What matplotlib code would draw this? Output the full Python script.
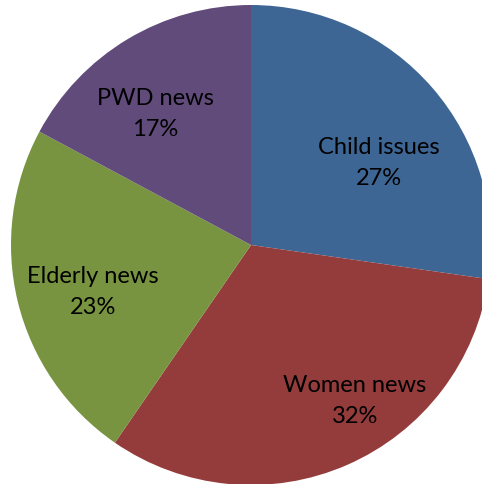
import matplotlib.pyplot as plt

# --- Data ---
categories = ["Child issues", "Women news", "Elderly news", "PWD news"]
shares = [27, 32, 23, 17]
colors = ["#3E6694", "#943C3B", "#789440", "#614B7B"]

# label positions inside each slice (pie radius = 1)
label_pos = [(0.533, 0.346), (0.433, -0.646), (-0.658, -0.192), (-0.40, 0.55)]

plt.rcParams['font.family'] = ['Lato', 'DejaVu Sans']

fig = plt.figure(figsize=(4.82, 4.85), dpi=100)
ax = fig.add_axes([0, 0, 1, 1])

wedges, _ = ax.pie(shares, colors=colors, startangle=90, counterclock=False,
                   radius=1.0, wedgeprops=dict(linewidth=0))

for name, val, (x, y) in zip(categories, shares, label_pos):
    ax.text(x, y, f"{name}\n{val}%", ha='center', va='center',
            fontsize=17, color='black', linespacing=1.55)

ax.set_xlim(-251 / 240, 231 / 240)
ax.set_ylim(-239 / 240, 246 / 240)
ax.set_aspect('auto')
ax.axis('off')

fig.savefig("out.png", dpi=100)
